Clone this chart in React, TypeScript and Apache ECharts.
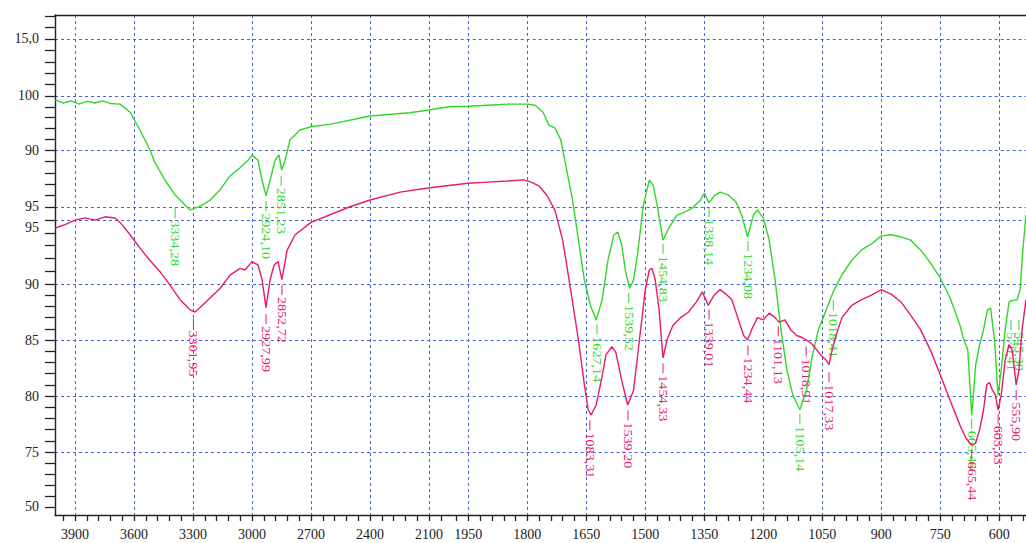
import React, { useEffect, useRef } from "react";
import * as echarts from "echarts";

// ---- axis definitions ----
const X_BREAK = 2000;
const X_LEFT_MAX = 4002;
const X_RIGHT_MIN = 532;
const xTicksHigh = [3900, 3600, 3300, 3000, 2700, 2400, 2100];
const xTicksLow = [1950, 1800, 1650, 1500, 1350, 1200, 1050, 900, 750, 600];

// display scale (lower trace units) for the y axis ticks and their printed labels
const yTickPos = [70.09, 75, 80, 85, 90, 95.71, 96.88, 101.96, 106.79, 111.88];
const yTickLabels = ["50", "75", "80", "85", "90", "95", "95", "90", "100", "15,0"];
const Y_MIN = 69.375;
const Y_MAX = 114.02;
// upper (green) trace scale
const G_MIN = 22.41;
const G_MAX = 115.0;

// ---- green spectrum (upper) ----
const greenWn = [
  4000, 3960, 3920, 3880, 3840, 3800, 3760, 3720, 3671, 3620, 3570, 3519, 3493, 3442, 3392, 3341, 3315, 3264,
  3214, 3163, 3112, 3061, 3020, 3000, 2970, 2949, 2929, 2908, 2883, 2863, 2850, 2832, 2807, 2756, 2700, 2600,
  2400, 2200, 2100, 2000,
  1950, 1900, 1850, 1800, 1780, 1760, 1745, 1730, 1715, 1700, 1685, 1670, 1655, 1640, 1625, 1610, 1595, 1580,
  1570, 1560, 1550, 1540, 1530, 1520, 1505, 1490, 1480, 1470, 1455, 1440, 1420, 1400, 1380, 1360, 1350, 1338,
  1325, 1310, 1290, 1270, 1255, 1240, 1225, 1215, 1200, 1185, 1170, 1155, 1140, 1125, 1107, 1090, 1075, 1060,
  1040, 1020, 1000, 975, 950, 925, 900, 875, 850, 825, 800, 775, 750, 725, 700, 690, 680, 670, 660, 650, 640,
  630, 622, 612, 603, 595, 585, 575, 565, 555, 547, 540, 532,
];
const greenT = [
  99.3, 98.7, 99.1, 98.5, 99.0, 98.7, 99.1, 98.6, 98.5, 97.0, 93.7, 90.0, 87.6, 84.4, 81.7, 79.8, 78.9, 79.6,
  80.7, 82.6, 85.2, 86.7, 88.1, 89.1, 88.1, 84.4, 81.5, 84.4, 88.1, 89.1, 86.3, 88.1, 91.9, 93.7, 94.3, 94.8,
  96.3, 96.9, 97.4, 98.0,
  98.1, 98.3, 98.5, 98.5, 98.3, 97.0, 94.6, 94.1, 91.9, 86.3, 80.7, 73.3, 65.9, 61.3, 58.5, 62.2, 69.6, 74.3,
  74.8, 72.4, 67.4, 64.4, 65.9, 70.6, 79.8, 84.4, 83.5, 79.8, 73.3, 75.6, 77.9, 78.5, 79.3, 80.7, 82.0, 80.2,
  81.5, 82.2, 81.7, 80.4, 78.0, 73.9, 78.0, 78.9, 77.4, 73.3, 65.9, 56.7, 49.3, 44.6, 41.9, 45.6, 52.0, 56.7,
  60.4, 64.1, 66.9, 69.6, 71.5, 72.6, 74.1, 74.3, 73.9, 73.3, 71.5, 69.1, 66.3, 62.6, 57.6, 54.8, 53.0, 40.9,
  50.2, 53.9, 56.7, 60.4, 60.7, 54.8, 44.6, 49.3, 56.7, 61.9, 62.2, 62.2, 64.1, 71.5, 78.0,
];

// ---- magenta spectrum (lower) ----
const pinkWn = [
  4000, 3951, 3900, 3849, 3798, 3747, 3697, 3671, 3620, 3570, 3519, 3468, 3417, 3366, 3315, 3290, 3264, 3214,
  3163, 3112, 3061, 3036, 3000, 2970, 2949, 2929, 2908, 2888, 2868, 2848, 2822, 2781, 2700, 2502, 2400, 2247,
  2095, 2000,
  1950, 1900, 1850, 1810, 1790, 1770, 1750, 1730, 1710, 1690, 1670, 1655, 1645, 1638, 1625, 1612, 1600, 1585,
  1575, 1560, 1545, 1530, 1515, 1500, 1490, 1483, 1475, 1465, 1455, 1445, 1430, 1410, 1390, 1370, 1355, 1340,
  1325, 1310, 1295, 1280, 1265, 1250, 1240, 1230, 1215, 1200, 1185, 1170, 1160, 1145, 1130, 1115, 1100, 1090,
  1075, 1055, 1040, 1033, 1025, 1015, 1000, 975, 950, 925, 900, 875, 850, 825, 800, 775, 750, 725, 700, 685,
  670, 660, 650, 640, 632, 625, 617, 610, 603, 595, 585, 575, 567, 557, 550, 542, 532,
];
const pinkT = [
  95.0, 95.3, 95.7, 95.9, 95.7, 96.0, 95.9, 95.5, 94.4, 93.2, 92.1, 91.1, 89.9, 88.6, 87.7, 87.5, 87.9, 88.75,
  89.6, 90.8, 91.4, 91.25, 92.0, 91.7, 90.4, 87.9, 90.4, 91.7, 92.0, 90.4, 93.0, 94.4, 95.5, 96.9, 97.5, 98.2,
  98.6, 98.8,
  99.0, 99.1, 99.2, 99.3, 99.1, 98.75, 97.9, 96.6, 93.9, 89.5, 85.0, 81.0, 78.75, 78.3, 79.2, 81.4, 83.7, 84.4,
  83.9, 81.4, 79.2, 80.5, 85.0, 89.5, 91.25, 91.4, 90.4, 87.7, 83.4, 85.0, 86.3, 87.0, 87.5, 88.4, 89.3, 88.1,
  89.0, 89.5, 89.1, 88.6, 87.0, 85.4, 85.0, 85.9, 87.0, 86.8, 87.4, 87.0, 86.6, 86.8, 85.9, 85.4, 85.2, 85.0,
  84.6, 83.7, 83.2, 82.8, 84.1, 85.4, 87.0, 88.1, 88.6, 89.0, 89.5, 89.1, 88.4, 87.2, 85.9, 84.1, 81.9, 79.6,
  77.4, 76.25, 75.6, 75.8, 77.0, 78.75, 81.0, 81.2, 80.5, 80.1, 78.75, 80.1, 83.2, 84.6, 84.1, 81.0, 82.3, 85.9,
  88.6,
];

// ---- peak labels ----
const greenPeakWn = [3391, 2929, 2852, 1623, 1542, 1455, 1338, 1239, 1107, 1022, 670, 570, 550];
const greenPeakT = [79.6, 80.9, 85.6, 58.1, 63.9, 73.0, 79.8, 73.5, 41.5, 62.6, 40.6, 58.9, 58.9];
const greenPeakText = ["3334,28", "2924,10", "2851,23", "1627,14", "1539,52", "1454,83", "1338,14", "1234,08", "1105,14", "1018,41", "665,44", "570,41", "545,30"];

const pinkPeakWn = [3298, 2929, 2848, 1641, 1544, 1455, 1338, 1239, 1162, 1091, 1033, 670, 603, 557];
const pinkPeakT = [87.1, 87.5, 90.1, 78.0, 78.9, 83.1, 87.9, 84.7, 86.4, 84.6, 82.3, 75.4, 78.6, 80.7];
const pinkPeakText = ["3301,95", "2927,99", "2852,72", "1083,31", "1539,20", "1454,33", "1339,01", "1234,44", "1101,13", "1018,91", "1017,33", "665,44", "603,33", "555,90"];

const GREEN = "#2fd82a";
const PINK = "#e8196f";
const GRID_BLUE = "#3f63e0";
const AXIS_COLOR = "#222";
const CLEAR = "rgba(0,0,0,0)";
const FONT = "'Liberation Serif', 'Times New Roman', serif";

function pairs(wn: number[], t: number[], keep: (w: number) => boolean) {
  const out: number[][] = [];
  for (let i = 0; i < wn.length; i++) if (keep(wn[i])) out.push([wn[i], t[i]]);
  return out;
}

function labelSeries(wn: number[], t: number[], texts: string[], keep: (w: number) => boolean, xi: number, yi: number, color: string) {
  const idx = wn.map((w, i) => i).filter((i) => keep(wn[i]));
  const data = idx.map((i) => [wn[i], t[i]]);
  const txt = idx.map((i) => texts[i]);
  return {
    type: "custom",
    xAxisIndex: xi,
    yAxisIndex: yi,
    clip: false,
    data,
    renderItem: (params: any, api: any) => {
      const p = api.coord([api.value(0), api.value(1)]);
      return {
        type: "group",
        children: [
          {
            type: "line",
            shape: { x1: p[0], y1: p[1] + 2, x2: p[0], y2: p[1] + 12 },
            style: { stroke: color, lineWidth: 1 },
          },
          {
            type: "text",
            x: p[0],
            y: p[1] + 14,
            rotation: -Math.PI / 2,
            scaleX: 1.18,
            style: {
              text: txt[params.dataIndex],
              fill: color,
              font: `12px ${FONT}`,
              align: "left",
              verticalAlign: "middle",
            },
          },
        ],
      };
    },
  };
}

function buildOption() {
  // minor tick positions (between the labelled ticks)
  const xMinorHigh: number[] = [];
  for (let v = 3960; v > X_BREAK; v -= 60) if (v % 300 !== 0) xMinorHigh.push(v);
  const xMinorLow: number[] = [];
  for (let v = X_BREAK - 20; v >= 540; v -= 30) if (!xTicksLow.includes(v)) xMinorLow.push(v);

  const yMinor: number[] = [];
  for (let i = 0; i < yTickPos.length - 1; i++) {
    const a = yTickPos[i];
    const b = yTickPos[i + 1];
    if (b - a < 3) continue;
    for (let k = 1; k < 5; k++) yMinor.push(a + ((b - a) * k) / 5);
  }
  const topStep = (yTickPos[yTickPos.length - 1] - yTickPos[yTickPos.length - 2]) / 5;
  for (let v = yTickPos[yTickPos.length - 1] + topStep; v < Y_MAX; v += topStep) yMinor.push(v);

  // all ticks (major + minor), ascending; grid lines only at the major ones
  const asc = (a: number, b: number) => a - b;
  const yAll = [...yTickPos, ...yMinor].sort(asc);
  const yColors = yAll.map((v) => (yTickPos.indexOf(v) > 0 ? GRID_BLUE : CLEAR));
  const xHighAll = [...xTicksHigh, ...xMinorHigh].sort(asc);
  const xHighColors = xHighAll.map((v) => (xTicksHigh.includes(v) ? GRID_BLUE : CLEAR));
  const xLowAll = [...xTicksLow, ...xMinorLow].sort(asc);
  const xLowColors = xLowAll.map((v) => (xTicksLow.includes(v) ? GRID_BLUE : CLEAR));
  const yMajorColors = yTickPos.map((v, i) => (i === 0 ? CLEAR : GRID_BLUE));

  const dashed = { type: [3, 3] as any, width: 1 };

  const hiKeep = (w: number) => w >= X_BREAK;
  const loKeep = (w: number) => w <= X_BREAK;

  const xBase = (gridIndex: number, min: number, max: number) => ({
    type: "value",
    gridIndex,
    min,
    max,
    inverse: true,
  });

  // the second "95" is printed a little below its tick in the original
  const labelFmt = (v: number) => {
    for (let i = 0; i < yTickPos.length; i++) {
      if (Math.abs(yTickPos[i] - v) < 0.001) return i === 5 ? `{low|${yTickLabels[i]}}` : yTickLabels[i];
    }
    return "";
  };

  const axisLineStyle = { color: AXIS_COLOR, width: 1.4 };

  return {
    animation: false,
    backgroundColor: "#ffffff",
    grid: [
      { left: 55, top: 15, width: 393.7, bottom: 28 },
      { left: 448.7, top: 15, right: 0, bottom: 28 },
    ],
    xAxis: [
      {
        ...xBase(0, X_BREAK, X_LEFT_MAX),
        position: "bottom",
        axisLine: { show: true, onZero: false, lineStyle: axisLineStyle },
        axisTick: { show: true, length: 6, customValues: xHighAll, lineStyle: { color: AXIS_COLOR, width: 1.3 } },
        axisLabel: { show: true, customValues: xTicksHigh, margin: 12, fontSize: 14, fontFamily: FONT, color: AXIS_COLOR, formatter: (v: number) => String(v) },
        splitLine: { show: true, lineStyle: { ...dashed, color: xHighColors } },
      },
      {
        ...xBase(0, X_BREAK, X_LEFT_MAX),
        position: "top",
        axisLine: { show: true, onZero: false, lineStyle: axisLineStyle },
        axisTick: { show: false },
        axisLabel: { show: false },
        splitLine: { show: false },
      },
      {
        ...xBase(1, X_RIGHT_MIN, X_BREAK),
        position: "bottom",
        axisLine: { show: true, onZero: false, lineStyle: axisLineStyle },
        axisTick: { show: true, length: 6, customValues: xLowAll, lineStyle: { color: AXIS_COLOR, width: 1.3 } },
        axisLabel: { show: true, customValues: xTicksLow, margin: 12, fontSize: 14, fontFamily: FONT, color: AXIS_COLOR, formatter: (v: number) => String(v) },
        splitLine: { show: true, lineStyle: { ...dashed, color: xLowColors } },
      },
      {
        ...xBase(1, X_RIGHT_MIN, X_BREAK),
        position: "top",
        axisLine: { show: true, onZero: false, lineStyle: axisLineStyle },
        axisTick: { show: false },
        axisLabel: { show: false },
        splitLine: { show: false },
      },
    ],
    yAxis: [
      {
        type: "value",
        gridIndex: 0,
        min: Y_MIN,
        max: Y_MAX,
        position: "left",
        axisLine: { show: true, onZero: false, lineStyle: axisLineStyle },
        axisTick: { show: true, length: 10, customValues: yAll, lineStyle: { color: AXIS_COLOR, width: 1.3 } },
        axisLabel: {
          show: true,
          customValues: yTickPos,
          margin: 16,
          fontSize: 14,
          fontFamily: FONT,
          color: AXIS_COLOR,
          formatter: labelFmt,
          rich: { low: { fontSize: 14, fontFamily: FONT, color: AXIS_COLOR, padding: [15, 0, 0, 0] } },
        },
        splitLine: { show: true, lineStyle: { ...dashed, color: yColors } },
      },
      { type: "value", gridIndex: 0, min: G_MIN, max: G_MAX, show: false },
      {
        type: "value",
        gridIndex: 1,
        min: Y_MIN,
        max: Y_MAX,
        position: "left",
        axisLine: { show: false, onZero: false },
        axisTick: { show: false, customValues: yTickPos },
        axisLabel: { show: false, customValues: yTickPos },
        splitLine: { show: true, lineStyle: { ...dashed, color: yMajorColors } },
      },
      { type: "value", gridIndex: 1, min: G_MIN, max: G_MAX, show: false },
    ],
    series: [
      { type: "line", name: "green-hi", xAxisIndex: 0, yAxisIndex: 1, data: pairs(greenWn, greenT, hiKeep), showSymbol: false, symbol: "none", lineStyle: { color: GREEN, width: 1.4 }, z: 3 },
      { type: "line", name: "green-lo", xAxisIndex: 2, yAxisIndex: 3, data: pairs(greenWn, greenT, loKeep), showSymbol: false, symbol: "none", lineStyle: { color: GREEN, width: 1.4 }, z: 3 },
      { type: "line", name: "pink-hi", xAxisIndex: 0, yAxisIndex: 0, data: pairs(pinkWn, pinkT, hiKeep), showSymbol: false, symbol: "none", lineStyle: { color: PINK, width: 1.4 }, z: 3 },
      { type: "line", name: "pink-lo", xAxisIndex: 2, yAxisIndex: 2, data: pairs(pinkWn, pinkT, loKeep), showSymbol: false, symbol: "none", lineStyle: { color: PINK, width: 1.4 }, z: 3 },
      labelSeries(greenPeakWn, greenPeakT, greenPeakText, hiKeep, 0, 1, GREEN),
      labelSeries(greenPeakWn, greenPeakT, greenPeakText, (w) => w < X_BREAK, 2, 3, GREEN),
      labelSeries(pinkPeakWn, pinkPeakT, pinkPeakText, hiKeep, 0, 0, PINK),
      labelSeries(pinkPeakWn, pinkPeakT, pinkPeakText, (w) => w < X_BREAK, 2, 2, PINK),
    ],
  };
}

export default function App() {
  const ref = useRef<HTMLDivElement>(null);
  useEffect(() => {
    if (!ref.current) return;
    const chart = echarts.init(ref.current, null, { renderer: "svg" });
    chart.setOption(buildOption() as any);
    return () => chart.dispose();
  }, []);
  return (
    <div
      ref={ref}
      style={{ position: "fixed", left: 0, top: 0, width: 1026, height: 543, background: "#fff" }}
    />
  );
}
